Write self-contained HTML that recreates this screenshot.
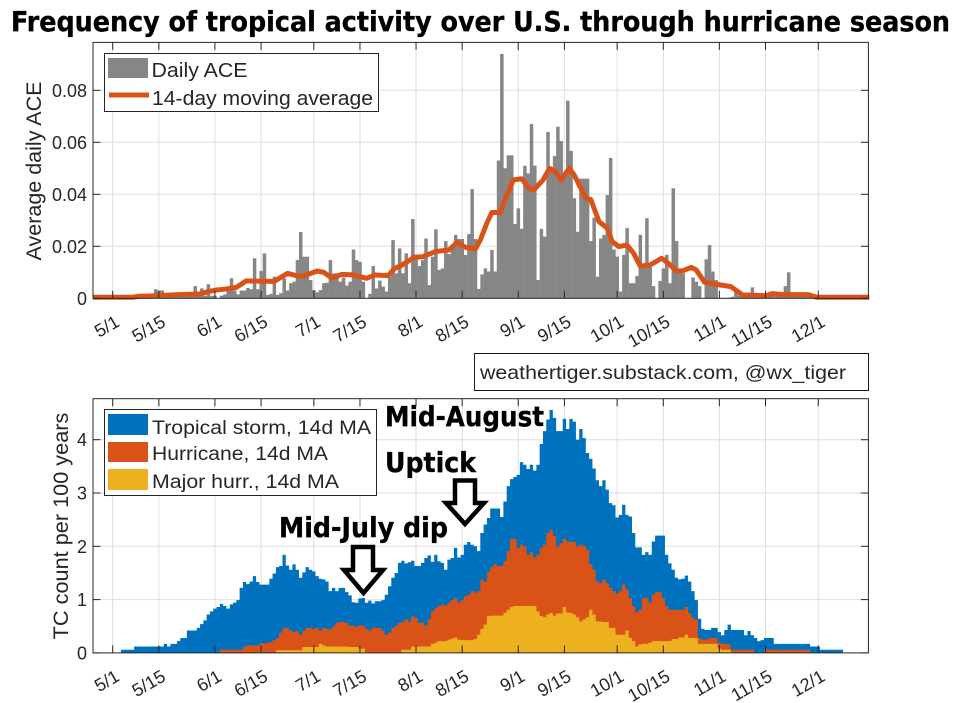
<!DOCTYPE html>
<html lang="en">
<head>
<meta charset="utf-8">
<title>Frequency of tropical activity over U.S. through hurricane season</title>
<style>
html,body{margin:0;padding:0;background:#fff;}
svg{display:block;}
text{font-family:"Liberation Sans",Arial,sans-serif;fill:#262626;}
.hd{font-family:"DejaVu Sans",sans-serif;font-weight:700;fill:#000;stroke:#000;stroke-width:0.35px;}
</style>
</head>
<body>
<svg id="chart" xmlns="http://www.w3.org/2000/svg" width="956" height="703" viewBox="0 0 956 703">
  <rect x="0" y="0" width="956" height="703" fill="#fff"/>
  <g id="topGrid"></g>
  <g id="botGrid"></g>
  <g id="topBars"></g>
  <path id="maLine" fill="none" stroke="#D95319" stroke-width="5" stroke-linejoin="round"/>
  <path id="areaTotal" fill="#0072BD"/>
  <path id="areaHurr" fill="#D95319"/>
  <path id="areaMajor" fill="#EDB120"/>
  <g id="topAxis"></g>
  <g id="botAxis"></g>

  <text class="hd" x="11" y="31" font-size="27.5" textLength="939" lengthAdjust="spacingAndGlyphs">Frequency of tropical activity over U.S. through hurricane season</text>

  <text transform="translate(41,171) rotate(-90)" text-anchor="middle" font-size="21.5">Average daily ACE</text>
  <text transform="translate(68,526) rotate(-90)" text-anchor="middle" font-size="21.7">TC count per 100 years</text>

  <g>
    <rect x="104.5" y="53.5" width="274" height="58" fill="#fff" stroke="#262626" stroke-width="1"/>
    <rect x="108" y="58" width="40" height="20" fill="#868686"/>
    <text x="151.5" y="77" font-size="20" textLength="96" lengthAdjust="spacingAndGlyphs">Daily ACE</text>
    <line x1="109" y1="95" x2="149" y2="95" stroke="#D95319" stroke-width="5"/>
    <text x="152" y="105" font-size="20" textLength="221" lengthAdjust="spacingAndGlyphs">14-day moving average</text>
  </g>

  <g>
    <rect x="474.5" y="353.5" width="394" height="37" fill="#fff" stroke="#1a1a1a" stroke-width="1"/>
    <text x="480" y="379" font-size="19.5" textLength="366" lengthAdjust="spacingAndGlyphs">weathertiger.substack.com, @wx_tiger</text>
  </g>

  <g>
    <rect x="104.5" y="409.5" width="272" height="86" fill="#fff" stroke="#262626" stroke-width="1"/>
    <rect x="108" y="414" width="40" height="21" fill="#0072BD"/>
    <rect x="108" y="442" width="40" height="20" fill="#D95319"/>
    <rect x="108" y="469" width="40" height="21" fill="#EDB120"/>
    <text x="152" y="434" font-size="19" textLength="219" lengthAdjust="spacingAndGlyphs">Tropical storm, 14d MA</text>
    <text x="152" y="460" font-size="19" textLength="176" lengthAdjust="spacingAndGlyphs">Hurricane, 14d MA</text>
    <text x="152" y="488" font-size="19" textLength="187" lengthAdjust="spacingAndGlyphs">Major hurr., 14d MA</text>
  </g>

  <text class="hd" x="385" y="426" font-size="27.5" textLength="159" lengthAdjust="spacingAndGlyphs">Mid-August</text>
  <text class="hd" x="385" y="472" font-size="27.5" textLength="91" lengthAdjust="spacingAndGlyphs">Uptick</text>
  <text class="hd" x="279" y="537" font-size="27.5" textLength="169" lengthAdjust="spacingAndGlyphs">Mid-July dip</text>

  <polygon points="353,547 373,547 373,570 383,570 363.5,593 344,570 353,570" fill="#fff" stroke="#000" stroke-width="4.5" stroke-linejoin="miter"/>
  <polygon points="455,480.5 475,480.5 475,503 484,503 465,524 446,503 455,503" fill="#fff" stroke="#000" stroke-width="4.5" stroke-linejoin="miter"/>
</svg>

<script>
// X axis: tick labels and their day offset from May 1
const tickLabels = ["5/1","5/15","6/1","6/15","7/1","7/15","8/1","8/15","9/1","9/15","10/1","10/15","11/1","11/15","12/1"];
const tickDays = [0,14,31,45,61,75,92,106,123,137,153,167,184,198,214];
// Y axis ticks
const aceTickValues = [0,0.02,0.04,0.06,0.08];
const aceTickLabels = ["0","0.02","0.04","0.06","0.08"];
const countTickValues = [0,1,2,3,4];
const countTickLabels = ["0","1","2","3","4"];

// Daily ACE in thousandths, one value per day beginning May 1
const aceDaily = [
0,0,0,0,0,0,0,0,0,0,
0,0,0,3.5,3,3,1,1,1,1,
1,1,1,1,1,4.7,1,3.8,1,5.4,
1,1,0,1,1.5,3,7.7,3,1.5,3,
3,4,3.5,15.4,3.5,10.5,17.3,1.3,1.7,8.3,
1.3,2,7.7,3,5.8,6.4,14.7,25.5,16,16,
7,3.2,2.3,3.2,5.8,6,14.7,9.6,9.6,6.4,
8,4.9,6.4,18.8,14.7,14,6.4,0,1.7,12.4,
3.8,6.8,4.5,2.6,8.3,22.4,9.6,19.2,9.6,17.3,
5.8,30.5,16,12.4,14.7,23,5.1,16,26.5,10.9,
11.5,22,17,19.9,24.4,22.8,22.8,16.7,24.7,42,
22.8,3.6,9.2,11.5,10.3,18.6,10.3,53,94,50,
55,55,28.6,34.6,26.7,51,48,67,51,7,
26.7,23.7,64,50,54.7,66,60.5,48,76,56.7,
38.5,25.6,46,46,46,22,31,8.3,23,24.4,
39.7,54,18.8,16,2.6,16.7,27,5.8,5.8,8.6,
24.4,12,30.8,12,4.7,0,6.7,11.5,16.7,5.8,
42.3,22,10.9,9.6,0,0,8,6.4,4.7,0,
15,20.5,10.3,7,0,0,0,0.3,0.6,3.2,
1,1,1,1,4.2,2,1,1,1,1,
1,1,1,1,4.7,10,1.9,1,1,1,
1,1,1,1,0];

// 14-day moving average, in thousandths, at the days
const maDays = [-6,0,6,8,14,18,26.5,29,31.5,34.5,37.5,40.5,44,49,53,56,58,62,64,66.5,69.5,73,77,79.5,83.5,85.5,87.5,91.5,94,98,102,104.5,107,110,111.5,113.5,115,117.5,119,121.5,124,126.5,128,130.5,132.5,134,136,138.5,140,143.5,145,147.5,150,151.5,153.5,156,158,160,163,166.5,168.5,171,173,175.5,177,179.5,183,187.5,191,198,200,203.5,211,213.5,229.5];
const maValues = [0.4,0.4,0.4,0.8,1,1.3,1.7,2.6,3.2,3.6,4.2,6.7,6.6,6.5,9.6,8.6,8.6,10.5,10,7.8,9.2,9,7.7,9,8.7,11.5,12.6,15.8,16,18,18.6,21.5,19.6,19,22.4,29,33,33,38,45.5,46,42,42,45.5,50,49,45.5,50,47.4,38.5,38,29.5,27,21.8,19.9,20.5,17.3,12.4,12.8,15.4,13.5,10.5,10.6,11.9,10.9,6.2,5.4,4.5,1.3,1,1.8,1.4,1.4,0.4,0.4];

// Storm counts per 100 years, 14-day MA. Each series is cumulative of the stronger classes.
const totalFirstDay = 3;
const totalCount = [
.06,.06,.06,.06,.12,.12,.12,
.12,.12,.12,.12,.12,.12,.17,.12,.17,.17,
.22,.28,.28,.42,.42,.42,.47,.54,.61,.72,
.78,.83,.86,.92,.88,.83,.91,.94,.99,1.22,
1.33,1.29,1.34,1.44,1.33,1.28,1.28,1.28,1.39,1.49,
1.61,1.63,1.84,1.64,1.56,1.66,1.56,1.41,1.51,1.61,
1.56,1.53,1.44,1.39,1.38,1.34,1.16,1.22,1.16,1.22,
1.22,1.14,1.08,.95,.94,1.02,1.03,.94,.98,.93,
.97,.97,.99,1.09,1.25,1.41,1.5,1.69,1.73,1.68,
1.7,1.73,1.63,1.63,1.69,1.78,1.83,1.71,1.84,1.72,
1.69,1.56,1.75,1.78,1.97,1.79,1.84,2.03,2.08,2.03,
2.0,1.91,2.25,2.41,2.53,2.71,2.71,2.71,2.55,2.84,
3.13,3.26,3.3,3.34,3.58,3.53,3.45,3.53,3.42,3.53,
3.92,4.16,4.38,4.56,4.41,4.16,4.16,4.39,4.2,4.39,
4.34,4.0,4.2,4.03,3.75,3.64,3.46,3.24,3.13,3.24,
3.06,2.81,2.77,2.54,2.59,2.78,2.59,2.56,2.25,1.98,
1.98,1.84,1.89,1.84,2.09,2.2,2.2,2.2,1.84,1.68,
1.56,1.41,1.38,1.39,1.45,1.34,1.16,.99,.64,.45,
.43,.43,.47,.47,.39,.33,.43,.53,.43,.43,
.43,.43,.33,.41,.33,.28,.22,.24,.28,.28,
.28,.17,.17,.17,.17,.17,.17,.17,.17,.17,
.17,.17,.12,.12,.12,.06,.06,.06,.06,.06,
.06,.06];

const hurricaneFirstDay = 33;
const hurricaneCount = [
.06,.06,.06,.06,.06,.06,.06,
.11,.14,.14,.14,.14,.18,.18,.19,.2,.24,
.28,.38,.47,.47,.42,.39,.41,.34,.42,.47,
.47,.45,.47,.42,.47,.45,.44,.5,.56,.58,
.58,.56,.51,.51,.49,.52,.51,.45,.42,.47,
.47,.47,.42,.34,.38,.47,.51,.56,.58,.63,
.59,.69,.66,.56,.57,.51,.63,.78,.84,.88,
.91,.89,.94,.99,1.03,.94,.99,1.06,1.09,1.16,
1.13,1.16,1.38,1.34,1.51,1.61,1.66,1.63,1.63,1.72,
1.91,2.14,2.14,1.97,2.03,2.0,1.84,1.89,1.79,1.84,
1.97,2.03,2.25,2.31,2.19,1.99,2.06,2.14,2.09,2.09,
2.08,2.0,2.03,2.01,1.94,1.66,1.56,1.34,1.31,1.38,
1.31,1.22,1.16,1.11,1.16,1.28,1.19,1.03,.88,.76,
.81,1.03,1.03,.94,1.09,1.14,1.14,1.03,.88,.81,
.81,.81,.81,.81,.86,.75,.66,.63,.28,.25,
.25,.28,.28,.28,.19,.17,.17,.16,.06,.06,
.06,.06,.06,.06,.06,0,0,0,.06,.06,
.06,.06,.06,.06,.06,.06,.06,.06,.06,.06,
.06,.06];

const majorFirstDay = 50;
const majorCount = [
.05,.05,.05,.05,.05,.05,.05,.05,.11,.11,
.11,.11,.11,.17,.14,.12,.12,.12,.12,.12,
.12,.12,.11,.11,.11,.08,.08,0,0,0,
0,0,0,0,0,0,0,0,.06,.06,
.06,.12,.12,.12,.12,.12,.12,.17,.19,.22,
.22,.22,.25,.27,.29,.25,.24,.24,.24,.24,
.26,.34,.45,.53,.69,.7,.7,.7,.7,.75,
.81,.86,.88,.88,.88,.88,.88,.88,.88,.78,
.69,.67,.72,.75,.7,.74,.74,.86,.76,.75,
.72,.67,.59,.63,.67,.81,.72,.59,.59,.58,
.58,.47,.47,.34,.34,.34,.42,.28,.22,.12,
.16,.17,.17,.19,.22,.22,.22,.22,.22,.22,
.26,.26,.29,.29,.34,.28,.28,.28,.17,.17,
.17,.17,.17,.17,.08,.06,.06,.06];

const NS = "http://www.w3.org/2000/svg";
const plotLeft = 93, plotRight = 868.4;
const topPlotTop = 42.4, topPlotBottom = 298.3;
const botPlotTop = 398.7, botPlotBottom = 652.9;

function xAt(day){ return 112.7 + 3.297 * day; }
function yAce(v){ return topPlotBottom - v / 0.02 * 52; }
function yCount(v){ return botPlotBottom - v * 53.3; }

function mk(tag, attrs, parent){
  const el = document.createElementNS(NS, tag);
  for (const k in attrs) el.setAttribute(k, attrs[k]);
  parent.appendChild(el);
  return el;
}

function drawGrid(group, top, bottom, yFn, values){
  tickDays.forEach(function(d){
    const gl = mk("line", {x1:xAt(d), x2:xAt(d), y1:top, y2:bottom, stroke:"#dedede", "stroke-width":1}, group);
    
    
  });
  values.forEach(function(v){
    if (v === 0) return;
    const gl = mk("line", {x1:plotLeft, x2:plotRight, y1:yFn(v), y2:yFn(v), stroke:"#dedede", "stroke-width":1}, group);
    
    
  });
}

function drawAxes(group, top, bottom, yFn, values, labels, labelBaseOffset){
  const box = mk("rect", {x:plotLeft, y:top, width:plotRight-plotLeft, height:bottom-top, fill:"none", stroke:"#262626", "stroke-width":1}, group);
  
  
  tickDays.forEach(function(d, i){
    const x = xAt(d);
    const t1 = mk("line", {x1:x, x2:x, y1:bottom, y2:bottom-7.5, stroke:"#262626", "stroke-width":1}, group);
    
    
    const t2 = mk("line", {x1:x, x2:x, y1:top, y2:top+7.5, stroke:"#262626", "stroke-width":1}, group);
    
    
    const lx = x + 8, ly = bottom + labelBaseOffset;
    const lab = mk("text", {x:lx, y:ly, "text-anchor":"end", "font-size":18, transform:"rotate(-30 "+lx+" "+ly+")"}, group);
    lab.textContent = tickLabels[i];
    
    
  });
  values.forEach(function(v, i){
    const y = yFn(v);
    const t1 = mk("line", {x1:plotLeft, x2:plotLeft+7.5, y1:y, y2:y, stroke:"#262626", "stroke-width":1}, group);
    
    
    const t2 = mk("line", {x1:plotRight, x2:plotRight-7.5, y1:y, y2:y, stroke:"#262626", "stroke-width":1}, group);
    
    
    const lab = mk("text", {x:plotLeft-6, y:y+6.5, "text-anchor":"end", "font-size":18}, group);
    lab.textContent = labels[i];
    
    
  });
}

function stepArea(values, firstDay){
  const base = yCount(0);
  let d = "M" + xAt(firstDay - 0.5).toFixed(2) + " " + base;
  values.forEach(function(v, i){
    const y = yCount(v).toFixed(2);
    d += "L" + xAt(firstDay + i - 0.5).toFixed(2) + " " + y;
    d += "L" + xAt(firstDay + i + 0.5).toFixed(2) + " " + y;
  });
  d += "L" + xAt(firstDay + values.length - 0.5).toFixed(2) + " " + base + "Z";
  return d;
}

drawGrid(document.getElementById("topGrid"), topPlotTop, topPlotBottom, yAce, aceTickValues);
drawGrid(document.getElementById("botGrid"), botPlotTop, botPlotBottom, yCount, countTickValues);

const barGroup = document.getElementById("topBars");
aceDaily.forEach(function(v, i){
  if (v <= 0) return;
  const top = yAce(v / 1000);
  const bar = mk("rect", {x:xAt(i - 0.5), y:top, width:3.5, height:topPlotBottom-top, fill:"#868686"}, barGroup);
  
  
});

document.getElementById("maLine").setAttribute("d",
  maDays.map(function(d, i){
    const cx = Math.max(plotLeft, xAt(d));
    return (i ? "L" : "M") + cx.toFixed(2) + " " + yAce(maValues[i] / 1000).toFixed(2);
  }).join("")
);

document.getElementById("areaTotal").setAttribute("d", stepArea(totalCount, totalFirstDay));
document.getElementById("areaHurr").setAttribute("d", stepArea(hurricaneCount, hurricaneFirstDay));
document.getElementById("areaMajor").setAttribute("d", stepArea(majorCount, majorFirstDay));

drawAxes(document.getElementById("topAxis"), topPlotTop, topPlotBottom, yAce, aceTickValues, aceTickLabels, 27);
drawAxes(document.getElementById("botAxis"), botPlotTop, botPlotBottom, yCount, countTickValues, countTickLabels, 27);
</script>
</body>
</html>
